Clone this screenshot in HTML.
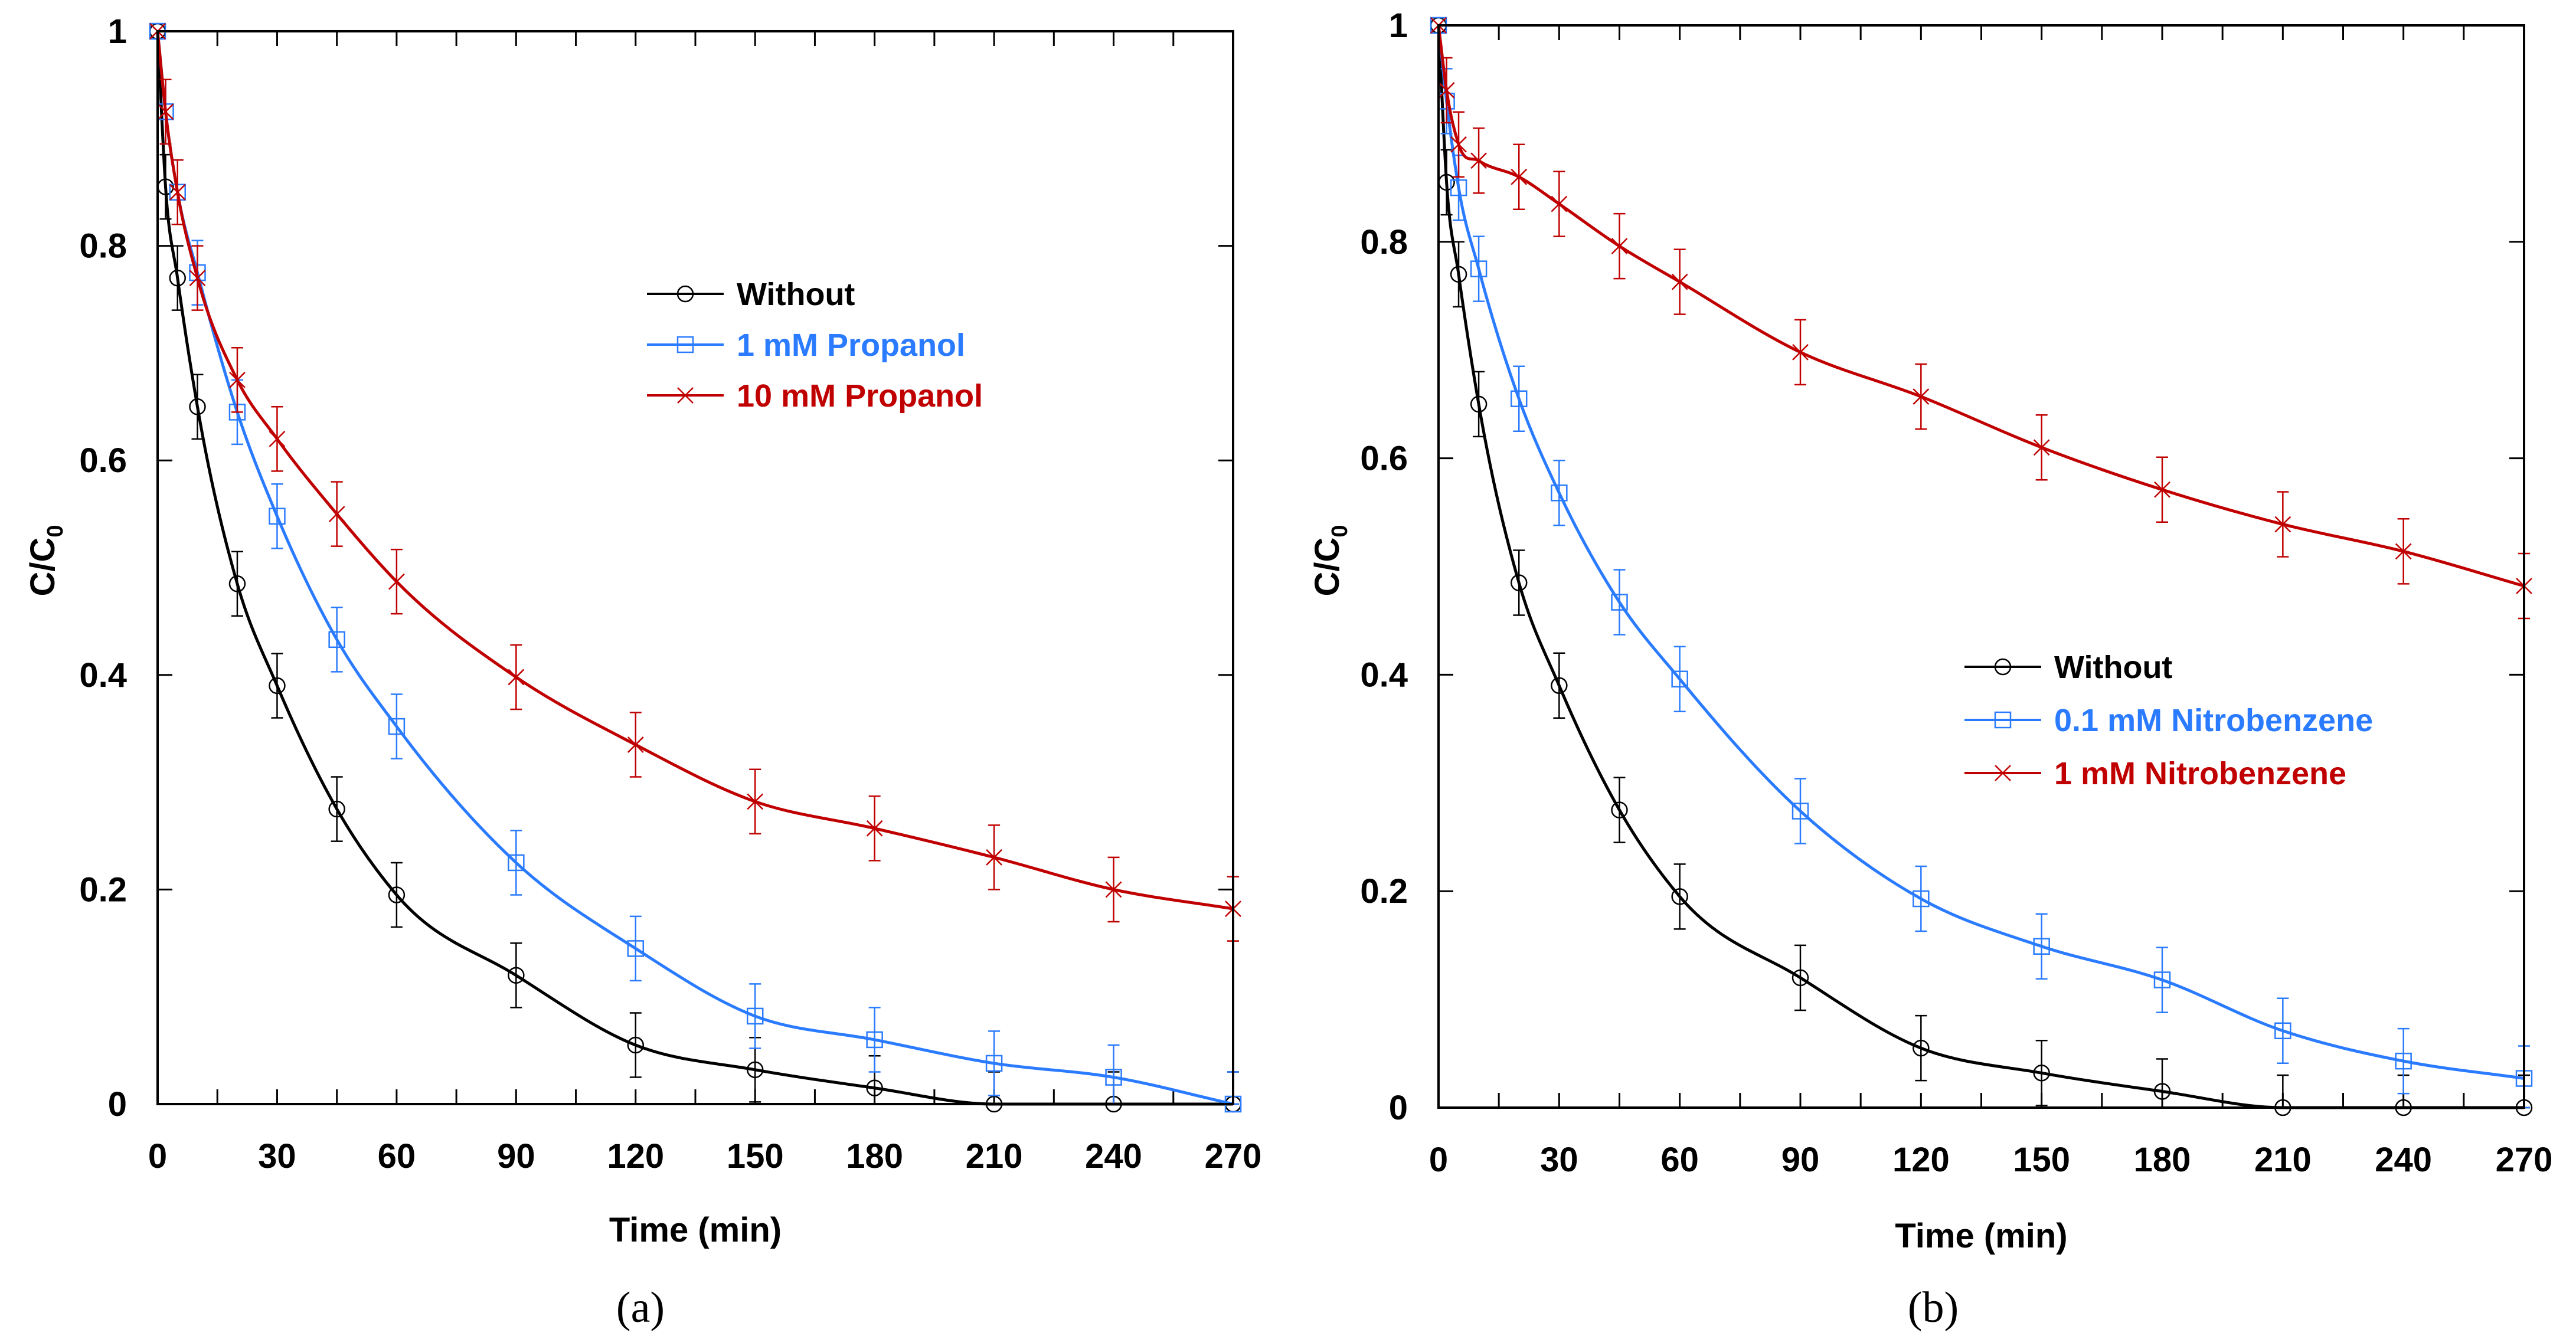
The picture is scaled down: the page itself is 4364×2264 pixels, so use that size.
<!DOCTYPE html>
<html><head><meta charset="utf-8"><style>
html,body{margin:0;padding:0;background:#fff;}
svg{display:block;font-family:"Liberation Sans",Arial,sans-serif;}
</style></head><body>
<svg id="chart" width="4364" height="2264" viewBox="0 0 4364 2264" xmlns="http://www.w3.org/2000/svg"></svg>
<script>
const times = [0,2,5,10,20,30,45,60,90,120,150,180,210,240,270];
const xTickLabels = [0,30,60,90,120,150,180,210,240,270];
const yTickLabels = [0,0.2,0.4,0.6,0.8,1];
const without = [1,0.855,0.77,0.65,0.485,0.39,0.275,0.195,0.12,0.055,0.032,0.015,0,0,0];
const propanol1 = [1,0.925,0.85,0.775,0.645,0.548,0.433,0.352,0.225,0.145,0.082,0.06,0.038,0.025,0];
const propanol10 = [1,0.925,0.85,0.77,0.675,0.62,0.55,0.487,0.398,0.335,0.282,0.257,0.23,0.2,0.182];
const nitro01 = [1,0.93,0.85,0.775,0.655,0.568,0.467,0.396,0.274,0.193,0.149,0.118,0.071,0.043,0.027];
const nitro1 = [1,0.94,0.89,0.875,0.86,0.835,0.796,0.763,0.698,0.657,0.61,0.571,0.539,0.514,0.482];
const errWithout = [0,0.03,0.03,0.03,0.03,0.03,0.03,0.03,0.03,0.03,0.03,0.03,0.03,0.03,0.03];
const errOther = [0,0.03,0.03,0.03,0.03,0.03,0.03,0.03,0.03,0.03,0.03,0.03,0.03,0.03,0.03];

const NS="http://www.w3.org/2000/svg";
const svg=document.getElementById('chart');
function mk(tag,attrs,parent){const e=document.createElementNS(NS,tag);for(const k in attrs)e.setAttribute(k,attrs[k]);(parent||svg).appendChild(e);return e;}

function smoothPath(pts){
  const n=pts.length;const dx=[],dy=[],m=[];
  for(let i=0;i<n-1;i++){dx.push(pts[i+1][0]-pts[i][0]);dy.push(pts[i+1][1]-pts[i][1]);m.push(dy[i]/dx[i]);}
  const t=[m[0]];
  for(let i=1;i<n-1;i++){t.push(m[i-1]*m[i]<=0?0:(m[i-1]*dx[i]+m[i]*dx[i-1])/(dx[i]+dx[i-1]));}
  t.push(m[n-2]);
  for(let i=0;i<n-1;i++){if(m[i]===0){t[i]=0;t[i+1]=0;}}
  let d=`M${pts[0][0]},${pts[0][1]}`;
  for(let i=0;i<n-1;i++){const h=dx[i];
    d+=` C${pts[i][0]+h/3},${pts[i][1]+t[i]*h/3} ${pts[i+1][0]-h/3},${pts[i+1][1]-t[i+1]*h/3} ${pts[i+1][0]},${pts[i+1][1]}`;}
  return d;
}

function panel(cfg){
  const g=mk('g',{});
  
  
  const L=cfg.L,R=cfg.R,T=cfg.T,B=cfg.B;
  const xs=v=>L+(v/270)*(R-L);
  const ys=v=>B-v*(B-T);
  for(let v=15;v<270;v+=15){
    const x=xs(v);
    const tb=mk('line',{x1:x,y1:B,x2:x,y2:B-25,stroke:'#000','stroke-width':3},g);
    
    const tt=mk('line',{x1:x,y1:T,x2:x,y2:T+25,stroke:'#000','stroke-width':3},g);
    
  }
  for(let v=0.2;v<1;v+=0.2){
    const y=ys(v);
    const tl=mk('line',{x1:L,y1:y,x2:L+25,y2:y,stroke:'#000','stroke-width':3},g);
    
    const tr=mk('line',{x1:R,y1:y,x2:R-25,y2:y,stroke:'#000','stroke-width':3},g);
    
  }
  xTickLabels.forEach(v=>{
    const t=mk('text',{x:xs(v),y:B+108,'text-anchor':'middle','font-size':58,'font-weight':'bold'},g);
    t.textContent=String(v);
    
  });
  yTickLabels.forEach(v=>{
    const t=mk('text',{x:L-52,y:ys(v)+20,'text-anchor':'end','font-size':58,'font-weight':'bold'},g);
    t.textContent=String(v);
    
  });
  cfg.series.forEach(s=>{
    const sg=mk('g',{},g);
    
    const pts=times.map((t,i)=>[xs(t),ys(s.vals[i])]);
    const p=mk('path',{d:smoothPath(pts),fill:'none',stroke:s.color,'stroke-width':5},sg);
    
    times.forEach((t,i)=>{
      const x=xs(t),v=s.vals[i],e=s.err[i];
      if(e>0){
        const y1=ys(Math.min(1,v+e)),y2=ys(Math.max(0,v-e));
        const eb=mk('path',{d:`M${x},${y1}V${y2}M${x-10},${y1}H${x+10}M${x-10},${y2}H${x+10}`,stroke:s.color,'stroke-width':2.5,fill:'none'},sg);
        
      }
      drawMarker(sg,s.marker,x,ys(v),s.color);
    });
  });
  const fr=mk('rect',{x:L,y:T,width:R-L,height:B-T,fill:'none',stroke:'#000','stroke-width':4},g);
  
  const xt=mk('text',{x:(L+R)/2,y:cfg.xTitleY,'text-anchor':'middle','font-size':58,'font-weight':'bold'},g);
  xt.textContent='Time (min)';
  
  const yt=mk('text',{x:0,y:0,'text-anchor':'middle','font-size':58,'font-weight':'bold',transform:`translate(${cfg.yTitleX},${cfg.yTitleY}) rotate(-90)`},g);
  yt.innerHTML='C/C<tspan font-size="38" dy="14">0</tspan>';
  
  const lg=mk('g',{},g);
  
  cfg.series.forEach((s,i)=>{
    const y=cfg.legY+i*cfg.legDy;
    const eg=mk('g',{},lg);
    
    mk('line',{x1:cfg.legX,y1:y,x2:cfg.legX+130,y2:y,stroke:s.color,'stroke-width':4},eg);
    drawMarker(eg,s.marker,cfg.legX+65,y,s.color);
    const t=mk('text',{x:cfg.legX+152,y:y+19,'font-size':54,'font-weight':'bold',fill:s.textColor},eg);
    t.textContent=s.label;
  });
  const pl=mk('text',{x:cfg.labX,y:cfg.labY,'text-anchor':'middle','font-size':74,'font-family':'"Liberation Serif",serif'},g);
  pl.textContent=cfg.label;
  
}
function drawMarker(g,type,x,y,color){
  let m;
  if(type==='circle') m=mk('circle',{cx:x,cy:y,r:13,fill:'none',stroke:color,'stroke-width':2.5},g);
  else if(type==='square') m=mk('rect',{x:x-13,y:y-13,width:26,height:26,fill:'none',stroke:color,'stroke-width':2.5},g);
  else m=mk('path',{d:`M${x-13},${y-13}L${x+13},${y+13}M${x-13},${y+13}L${x+13},${y-13}`,stroke:color,'stroke-width':2.5},g);
  
  
}
panel({name:'panel-a',L:267,R:2089,T:53,B:1871,xTitleY:2104,yTitleX:92,yTitleY:950,labX:1085,labY:2240,label:'(a)',
  legX:1096,legY:498,legDy:86,
  series:[
   {name:'without',label:'Without',vals:without,err:errWithout,color:'#000',textColor:'#000',marker:'circle'},
   {name:'propanol-1mm',label:'1 mM Propanol',vals:propanol1,err:errOther,color:'#2a7bff',textColor:'#2a7bff',marker:'square'},
   {name:'propanol-10mm',label:'10 mM Propanol',vals:propanol10,err:errOther,color:'#c00000',textColor:'#c00000',marker:'cross'}]});
panel({name:'panel-b',L:2437,R:4276,T:43,B:1877,xTitleY:2114,yTitleX:2268,yTitleY:950,labX:3275,labY:2240,label:'(b)',
  legX:3328,legY:1130,legDy:90,
  series:[
   {name:'without',label:'Without',vals:without,err:errWithout,color:'#000',textColor:'#000',marker:'circle'},
   {name:'nitrobenzene-0-1mm',label:'0.1 mM Nitrobenzene',vals:nitro01,err:errOther,color:'#2a7bff',textColor:'#2a7bff',marker:'square'},
   {name:'nitrobenzene-1mm',label:'1 mM Nitrobenzene',vals:nitro1,err:errOther,color:'#c00000',textColor:'#c00000',marker:'cross'}]});
</script>
</body></html>
